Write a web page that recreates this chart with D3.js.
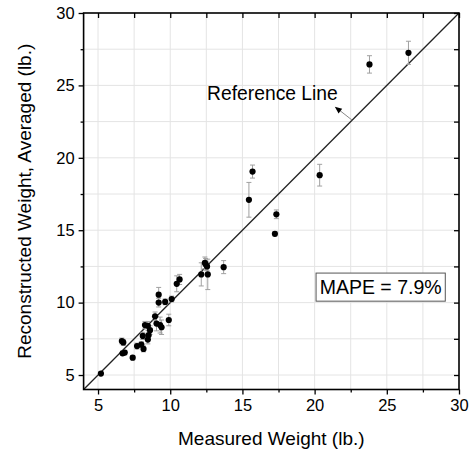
<!DOCTYPE html>
<html><head><meta charset="utf-8">
<script src="https://cdn.jsdelivr.net/npm/d3@7"></script>
<style>body{margin:0;background:#fff}svg{display:block}</style>
</head><body>
<svg id="c" width="470" height="455"></svg>
<script>
const measured = [5.2,6.65,6.75,6.7,6.85,7.4,7.7,8.0,8.15,8.1,8.25,8.45,8.5,8.45,8.6,8.95,9.05,9.3,9.4,9.2,9.2,9.65,9.9,10.1,10.45,10.65,12.15,12.45,12.55,12.6,12.4,13.7,15.45,15.7,17.35,17.25,20.35,23.8,26.5];
const reconstructed = [5.1,7.35,7.25,6.5,6.55,6.2,7.0,7.1,6.8,7.7,8.45,8.4,7.75,7.45,8.1,9.05,8.55,8.45,8.3,10.0,10.55,10.05,8.8,10.25,11.3,11.6,11.95,12.65,12.5,11.95,12.75,12.45,17.1,19.05,16.1,14.75,18.8,26.45,27.25];
const errors = [0.1,0.2,0.2,0.15,0.15,0.15,0.2,0.2,0.2,0.25,0.25,0.3,0.3,0.3,0.3,0.3,0.5,0.55,0.5,0.3,0.5,0.2,0.4,0.2,0.55,0.35,0.8,0.4,0.3,1.05,0.4,0.45,1.2,0.45,0.3,0.15,0.75,0.6,0.8];
const majorTicks = [5,10,15,20,25,30];
const minorTicks = [7.5,12.5,17.5,22.5,27.5];
const gridTicks = [5,7.5,10,12.5,15,17.5,20,22.5,25,27.5];
const domain = [4,30];
const xTitle = "Measured Weight (lb.)";
const yTitle = "Reconstructed Weight, Averaged (lb.)";
const refLabel = "Reference Line";
const mapeLabel = "MAPE = 7.9%";

const font = "'Liberation Sans', Arial, sans-serif";
const svg = d3.select("#c");
const L = 83.6, R = 459, T = 13, B = 389.5;
const x = d3.scaleLinear().domain(domain).range([L, R]);
const y = d3.scaleLinear().domain(domain).range([B, T]);

// grid
const g = svg.append("g");
g.selectAll(".gx").data(gridTicks).join("line")
  .attr("x1", d => x(d)).attr("x2", d => x(d)).attr("y1", T).attr("y2", B)
  .attr("stroke", "#e4e4e4").attr("stroke-width", 1);
g.selectAll(".gy").data(gridTicks).join("line")
  .attr("y1", d => y(d)).attr("y2", d => y(d)).attr("x1", L).attr("x2", R)
  .attr("stroke", "#e4e4e4").attr("stroke-width", 1);

// reference line
svg.append("line").attr("x1", x(4)).attr("y1", y(4)).attr("x2", x(30)).attr("y2", y(30))
  .attr("stroke", "#222").attr("stroke-width", 1.3);

// error bars
const eb = svg.append("g").attr("stroke", "#a0a0a0").attr("stroke-width", 1);
measured.forEach((m, i) => {
  const cx = x(m), y1 = y(reconstructed[i] - errors[i]), y2 = y(reconstructed[i] + errors[i]);
  eb.append("line").attr("x1", cx).attr("x2", cx).attr("y1", y1).attr("y2", y2);
  eb.append("line").attr("x1", cx - 2.5).attr("x2", cx + 2.5).attr("y1", y1).attr("y2", y1);
  eb.append("line").attr("x1", cx - 2.5).attr("x2", cx + 2.5).attr("y1", y2).attr("y2", y2);
});

// points
svg.append("g").selectAll("circle").data(measured).join("circle")
  .attr("cx", d => x(d)).attr("cy", (d, i) => y(reconstructed[i])).attr("r", 3.1)
  .attr("fill", "#000");

// axes
const axB = d3.axisBottom(x).tickValues(majorTicks).tickSize(5).tickPadding(5);
const axL = d3.axisLeft(y).tickValues(majorTicks).tickSize(5).tickPadding(4);
const gb = svg.append("g").attr("transform", `translate(0,${B})`).call(axB);
const gl = svg.append("g").attr("transform", `translate(${L},0)`).call(axL);
const gt = svg.append("g").attr("transform", `translate(0,${T})`).call(d3.axisBottom(x).tickValues(majorTicks.concat(minorTicks)).tickSize(5).tickFormat(""));
const gr = svg.append("g").attr("transform", `translate(${R},0)`).call(d3.axisLeft(y).tickValues(majorTicks.concat(minorTicks)).tickSize(5).tickFormat(""));
const gbm = svg.append("g").attr("transform", `translate(0,${B})`).call(d3.axisBottom(x).tickValues(minorTicks).tickSize(3).tickFormat(""));
const glm = svg.append("g").attr("transform", `translate(${L},0)`).call(d3.axisLeft(y).tickValues(minorTicks).tickSize(3).tickFormat(""));
[gb, gl, gt, gr, gbm, glm].forEach(a => {
  a.select(".domain").remove();
  a.selectAll("line").attr("stroke", "#000").attr("stroke-width", 1.3);
  a.selectAll("text").attr("font-family", font).attr("font-size", 16.5).attr("fill", "#000");
});
// frame
svg.append("rect").attr("x", L).attr("y", T).attr("width", R - L).attr("height", B - T)
  .attr("fill", "none").attr("stroke", "#000").attr("stroke-width", 1.6);

// titles
svg.append("text").attr("x", (L + R) / 2).attr("y", 445).attr("text-anchor", "middle")
  .attr("font-family", font).attr("font-size", 19).text(xTitle);
svg.append("text").attr("transform", `translate(31,${(T + B) / 2}) rotate(-90)`).attr("text-anchor", "middle")
  .attr("font-family", font).attr("font-size", 19).text(yTitle);

// annotation
svg.append("line").attr("x1", x(22.6)).attr("y1", y(22.6)).attr("x2", x(21.55)).attr("y2", y(23.42))
  .attr("stroke", "#888").attr("stroke-width", 1);
const hx = x(21.4), hy = y(23.52);
const ang = Math.atan2(y(23.52) - y(22.6), x(21.4) - x(22.6));
const ah = 7, aw = 3;
const p1 = [hx, hy];
const bx = hx - ah * Math.cos(ang), by = hy - ah * Math.sin(ang);
const p2 = [bx + aw * Math.sin(ang), by - aw * Math.cos(ang)];
const p3 = [bx - aw * Math.sin(ang), by + aw * Math.cos(ang)];
svg.append("path").attr("d", `M${p1}L${p2}L${p3}Z`).attr("fill", "#000");
svg.append("text").attr("x", x(12.55)).attr("y", y(24.0)).attr("font-family", font)
  .attr("font-size", 19.3).text(refLabel);

// MAPE box
svg.append("rect").attr("x", x(20.1)).attr("y", y(12.04)).attr("width", x(29.05) - x(20.1))
  .attr("height", y(10.1) - y(12.04)).attr("fill", "#fff").attr("stroke", "#555").attr("stroke-width", 1);
svg.append("text").attr("x", (x(20.1) + x(29.05)) / 2).attr("y", (y(12.04) + y(10.1)) / 2 + 7)
  .attr("text-anchor", "middle").attr("font-family", font).attr("font-size", 19.5).text(mapeLabel);
</script>
</body></html>
